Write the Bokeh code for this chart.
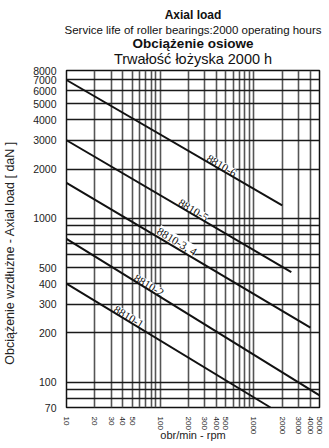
import math
from bokeh.plotting import figure
from bokeh.models import (FixedTicker, Title, ColumnDataSource, LabelSet,
                          NumeralTickFormatter)
from bokeh.embed import file_html
from bokeh.resources import INLINE

# ---- data -------------------------------------------------------------
series_names = ["8810-6", "8810-5", "8810-3, 4", "8810-2", "8810-1"]
rpm_start = [10, 10, 10, 10, 10]
rpm_end = [2000, 2500, 4000, 5000, 1500]
load_start = [7000, 3000, 1650, 750, 400]
load_end = [1200, 470, 215, 83, 70]
label_rpm = [430, 215, 140, 72, 44]

x_ticks = [10, 20, 30, 40, 50, 100, 200, 300, 400, 500, 1000, 2000, 3000, 4000, 5000]
y_ticks = [70, 100, 200, 300, 400, 500, 1000, 2000, 3000, 4000, 5000, 6000, 7000, 8000]
x_grid = [10, 20, 30, 40, 50, 60, 70, 80, 90, 100, 200, 300, 400, 500, 600, 700, 800,
          900, 1000, 2000, 3000, 4000, 5000]
y_grid = [70, 80, 90, 100, 200, 300, 400, 500, 600, 700, 800, 900, 1000, 2000, 3000,
          4000, 5000, 6000, 7000, 8000]

FONT = "Liberation Sans"

p = figure(frame_width=253, frame_height=337, x_axis_type="log", y_axis_type="log",
           x_range=(10, 5000), y_range=(70, 8000), title=None,
           output_backend="svg", toolbar_location=None,
           min_border_left=59, min_border_right=9, min_border_top=0,
           min_border_bottom=0)
p.background_fill_color = "white"
p.border_fill_color = "white"
p.outline_line_color = "#111111"
p.outline_line_width = 1.5

# spacer between the plot and the title block
p.add_layout(Title(text=" ", text_font_size="2px", standoff=5), "above")

# titles (added from the plot upward)
for txt, size, style, so in [("Trwałość łożyska 2000 h", "14.5px", "normal", -10.5),
                             ("Obciążenie osiowe", "13.5px", "bold", 6),
                             ("Service life of roller bearings:2000 operating hours", "11.5px", "normal", -10),
                             ("Axial load", "12px", "bold", 10)]:
    p.add_layout(Title(text=txt, align="center", text_font=FONT, text_font_size=size,
                       text_font_style=style, text_color="#111111", standoff=so), "above")

# grid
p.xgrid.ticker = FixedTicker(ticks=x_grid, minor_ticks=[])
p.ygrid.ticker = FixedTicker(ticks=y_grid, minor_ticks=[])
p.xgrid.grid_line_color = "#555555"
p.xgrid.grid_line_width = 1.6
p.ygrid.grid_line_color = "#1a1a1a"
p.ygrid.grid_line_width = 1.3
p.xgrid.grid_line_alpha = 1
p.ygrid.grid_line_alpha = 1

# axes
for ax, ticks in ((p.xaxis[0], x_ticks), (p.yaxis[0], y_ticks)):
    ax.ticker = FixedTicker(ticks=ticks, minor_ticks=[])
    ax.formatter = NumeralTickFormatter(format="0")
    ax.axis_line_color = None
    ax.major_tick_line_color = None
    ax.minor_tick_line_color = None
    ax.major_label_text_font = FONT
    ax.major_label_text_color = "#222222"
    ax.axis_label_text_font = FONT
    ax.axis_label_text_font_style = "normal"
    ax.axis_label_text_color = "#222222"

p.xaxis.major_label_orientation = "vertical"
p.xaxis.major_label_text_font_size = "8px"
p.xaxis.major_label_standoff = 3
p.xaxis.axis_label = "obr/min - rpm"
p.xaxis.axis_label_text_font_size = "11px"
p.xaxis.axis_label_standoff = -8

p.yaxis.major_label_text_font_size = "10.5px"
p.yaxis.major_label_standoff = 4
p.yaxis.axis_label = "Obciążenie wzdłużne - Axial load [ daN ]" + "\u00a0" * 8
p.yaxis.axis_label_text_font_size = "12.5px"
p.yaxis.axis_label_standoff = 13

# curves
for x0, x1, y0, y1 in zip(rpm_start, rpm_end, load_start, load_end):
    p.line([x0, x1], [y0, y1], line_color="#111111", line_width=2, level="overlay")

# labels along the curves
lx, ly = [], []
for x0, x1, y0, y1, xr in zip(rpm_start, rpm_end, load_start, load_end, label_rpm):
    t = (math.log10(xr) - math.log10(x0)) / (math.log10(x1) - math.log10(x0))
    lx.append(xr)
    ly.append(10 ** (math.log10(y0) + t * (math.log10(y1) - math.log10(y0))))
src = ColumnDataSource(dict(x=lx, y=ly, text=series_names))
labels = LabelSet(x="x", y="y", text="text", source=src, angle=-31, angle_units="deg",
                  text_align="center", text_baseline="bottom", text_font=FONT,
                  text_font_size="11.5px", text_color="#111111",
                  background_fill_color="white", background_fill_alpha=1)
p.add_layout(labels)

open("out.html", "w").write(file_html(p, INLINE))
